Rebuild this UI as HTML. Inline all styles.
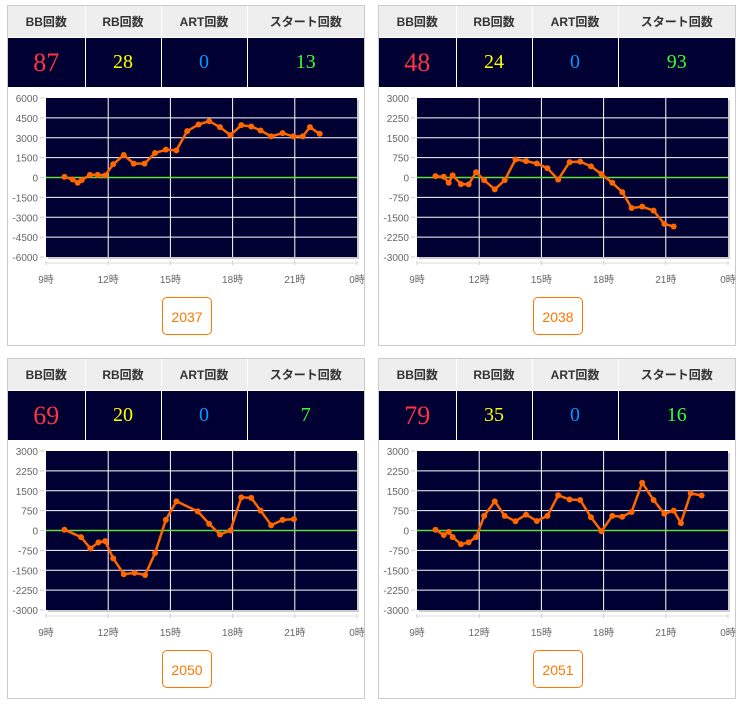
<!DOCTYPE html>
<html><head><meta charset="utf-8">
<style>
body{margin:0;background:#fff;width:742px;height:707px;position:relative;font-family:"Liberation Sans","Noto Sans CJK JP",sans-serif;overflow:hidden}
.panel{position:absolute;width:358px;height:341px;border:1px solid #ccc;box-sizing:border-box;background:#fff}
table{position:absolute;left:0;top:0;width:356px;border-collapse:collapse;table-layout:fixed}
th{height:31px;background:#eee;font-size:12px;font-weight:bold;color:#333;border-right:1px solid #fff;padding:0}
td{height:49px;background:#000033;text-align:center;font-family:"Liberation Serif",serif;border-right:1px solid #fff;border-top:1px solid #fff;padding:0}
.btn{position:absolute;left:154px;top:291px;width:50px;height:38px;border:1px solid #f70;border-radius:5px;color:#f70;font-size:14px;line-height:38px;text-align:center;box-sizing:border-box}
svg{position:absolute;left:0;top:0}
</style></head><body>
<script>
const hours1=[9.89,10.29,10.53,10.72,11.12,11.49,11.85,12.24,12.75,13.23,13.75,14.26,14.78,15.29,15.81,16.36,16.87,17.39,17.9,18.42,18.9,19.35,19.86,20.41,20.93,21.38,21.73,22.2];
const values1=[50,-150,-400,-200,200,200,150,1000,1700,1050,1050,1850,2100,2050,3500,4000,4250,3800,3200,3950,3850,3550,3100,3350,3100,3100,3800,3300];
const hours2=[9.89,10.29,10.53,10.72,11.12,11.49,11.85,12.24,12.75,13.23,13.75,14.26,14.78,15.29,15.81,16.36,16.87,17.39,17.9,18.42,18.9,19.35,19.86,20.41,20.93,21.38];
const values2=[50,30,-200,80,-250,-260,200,-100,-450,-100,680,620,530,350,-80,580,600,420,130,-200,-550,-1150,-1100,-1250,-1750,-1850];
const hours3=[9.89,10.69,11.14,11.53,11.85,12.24,12.75,13.27,13.78,14.26,14.78,15.29,16.32,16.87,17.39,17.9,18.42,18.9,19.35,19.86,20.41,20.96];
const values3=[30,-250,-680,-450,-400,-1050,-1650,-1600,-1680,-850,400,1100,720,250,-150,0,1250,1230,750,200,400,430];
const hours4=[9.89,10.29,10.53,10.72,11.12,11.49,11.85,12.24,12.75,13.23,13.75,14.26,14.78,15.29,15.81,16.36,16.87,17.39,17.9,18.42,18.9,19.35,19.86,20.41,20.93,21.38,21.73,22.2,22.73];
const values4=[30,-170,-50,-250,-520,-450,-250,550,1100,550,350,600,360,550,1330,1170,1150,500,-30,550,520,700,1800,1150,630,750,280,1400,1320];
const xTicks=["9時","12時","15時","18時","21時","0時"];
const tickHours=[9,12,15,18,21,24];
const panels=[
 {x:7,y:5,id:"2037",bb:87,rb:28,art:0,st:13,max:6000,hours:hours1,values:values1},
 {x:378,y:5,id:"2038",bb:48,rb:24,art:0,st:93,max:3000,hours:hours2,values:values2},
 {x:7,y:358,id:"2050",bb:69,rb:20,art:0,st:7,max:3000,hours:hours3,values:values3},
 {x:378,y:358,id:"2051",bb:79,rb:35,art:0,st:16,max:3000,hours:hours4,values:values4}
];
const NS="http://www.w3.org/2000/svg";
const PL=38,PR=349,PT=92,PB=251;
function xs(h){return PL+(h-9)/15*(PR-PL);}
function mk(tag,attrs,parent){const e=document.createElementNS(NS,tag);for(const k in attrs)e.setAttribute(k,attrs[k]);parent.appendChild(e);return e;}
panels.forEach((p,pi)=>{
 const d=document.createElement('div');
 d.className='panel';d.style.left=p.x+'px';d.style.top=p.y+'px';
 
 
 d.innerHTML='<table><colgroup><col style="width:77px"><col style="width:76px"><col style="width:86px"><col></colgroup><tr><th>BB回数</th><th>RB回数</th><th>ART回数</th><th style="border-right:0">スタート回数</th></tr><tr><td style="color:#ff3344;font-size:26px">'+p.bb+'</td><td style="color:#ffff00;font-size:20px">'+p.rb+'</td><td style="color:#0099ff;font-size:20px">'+p.art+'</td><td style="color:#33ff33;font-size:20px;border-right:0">'+p.st+'</td></tr></table><div class="btn">'+p.id+'</div>';
 document.body.appendChild(d);
 const svg=document.createElementNS(NS,'svg');
 svg.setAttribute('width','358');svg.setAttribute('height','290');
 
 
 d.appendChild(svg);
 const ys=v=>PT+(p.max-v)/(2*p.max)*(PB-PT);
 mk('rect',{x:PL+2,y:PT+2,width:PR-PL,height:PB-PT,fill:'#ccc'},svg);
 const bg=mk('rect',{x:PL,y:PT,width:PR-PL,height:PB-PT,fill:'#000033'},svg);
 
 for(let i=0;i<=8;i++){
  const v=p.max-i*p.max/4;const y=ys(v);
  if(i>0&&i<8&&i!==4)mk('line',{x1:PL,x2:PR,y1:y,y2:y,stroke:'#fff','stroke-width':1},svg);
  mk('line',{x1:PL-6,x2:PL-2,y1:y,y2:y,stroke:'#ccc'},svg);
  const t=mk('text',{x:PL-8,y:y+4,'text-anchor':'end','font-size':'10',fill:'#666'},svg);
  t.textContent=String(v);
  
 }
 tickHours.forEach((h,i)=>{
  const x=xs(h);
  if(i>0&&i<5)mk('line',{x1:x,x2:x,y1:PT,y2:PB,stroke:'#fff'},svg);
  mk('line',{x1:x,x2:x,y1:PB+4,y2:PB+8,stroke:'#ccc'},svg);
  const t=mk('text',{x:x,y:PB+26,'text-anchor':'middle','font-size':'10',fill:'#666'},svg);
  t.textContent=xTicks[i];
  
 });
 mk('line',{x1:PL,x2:PR,y1:PB+6,y2:PB+6,stroke:'#ddd'},svg);
 const z=mk('line',{x1:PL,x2:PR,y1:ys(0),y2:ys(0),stroke:'#66dd33','stroke-width':1.5},svg);
 
 const pts=p.hours.map((h,i)=>xs(h).toFixed(1)+','+ys(p.values[i]).toFixed(1)).join(' ');
 const pl=mk('polyline',{points:pts,fill:'none',stroke:'#ff6600','stroke-width':2.5,'stroke-linejoin':'round'},svg);
 
 p.hours.forEach((h,i)=>{
  const c=mk('circle',{cx:xs(h),cy:ys(p.values[i]),r:3,fill:'#ff6600'},svg);
  
  
 });
});
</script>
</body></html>
